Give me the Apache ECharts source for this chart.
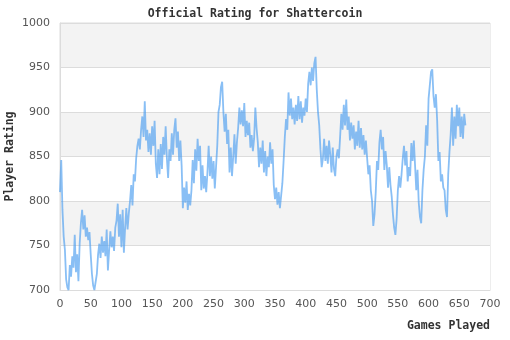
<!DOCTYPE html>
<html>
<head>
<meta charset="utf-8">
<title>Official Rating for Shattercoin</title>
<script src="https://cdn.jsdelivr.net/npm/echarts@6/dist/echarts.min.js"></script>
<style>
  html, body { margin: 0; padding: 0; background: #fff; }
  #chart { width: 510px; height: 340px; }
</style>
</head>
<body>
<div id="chart"></div>
<script>
// Rating after every second game played (game 0, 2, 4, ...)
const gameStep = 2;
const ratings = [
  810, 846, 790, 760, 745, 712, 703, 700, 728, 715,
  738, 725, 762, 720, 740, 710, 752, 775, 790, 768,
  784, 760, 770, 756, 765, 740, 718, 705, 700, 702,
  718, 740, 752, 736, 760, 742, 755, 738, 768, 722,
  745, 766, 748, 760, 744, 770, 778, 797, 760, 785,
  748, 790, 742, 770, 792, 768, 786, 800, 818, 795,
  830, 822, 848, 862, 870, 858, 880, 895, 872, 912,
  868, 880, 855, 876, 852, 884, 862, 890, 842, 826,
  858, 830, 864, 836, 872, 852, 884, 848, 826, 858,
  845, 876, 852, 880, 893, 860, 878, 845, 868, 840,
  792, 815, 798, 822, 790, 808, 795, 812, 846, 820,
  858, 834, 870, 845, 862, 812, 840, 814, 828, 810,
  832, 862, 828, 850, 825, 845, 814, 838, 862, 900,
  908, 928, 934, 900, 878, 898, 864, 880, 832, 860,
  828, 850, 875, 842, 866, 882, 905, 886, 902, 884,
  910, 872, 890, 874, 888, 860, 874, 856, 870, 905,
  882, 866, 838, 860, 842, 868, 832, 856, 828, 850,
  838, 866, 842, 858, 818, 802, 815, 796, 810, 792,
  806, 820, 845, 872, 892, 880, 922, 896, 915, 892,
  905, 886, 908, 890, 918, 892, 912, 888, 905, 896,
  915, 900, 932, 945, 930, 950, 935, 955, 962, 925,
  900, 885, 858, 838, 848, 870, 845, 862, 842, 868,
  852, 832, 860, 836, 828, 850, 858, 848, 872, 898,
  880, 908, 885, 914, 880, 895, 868, 888, 870, 885,
  858, 878, 862, 890, 860, 882, 858, 874, 852, 868,
  848, 830, 840, 812, 800, 772, 785, 810, 845, 835,
  866, 880, 858, 872, 835, 856, 840, 815, 838, 818,
  805, 785, 770, 762, 780, 812, 828, 815, 830, 848,
  862, 840, 856, 822, 838, 828, 865, 845, 868, 840,
  812, 835, 798, 782, 775, 812, 835, 850, 885, 862,
  915, 930, 945, 948, 918, 905, 920, 890, 845, 855,
  822, 830, 815, 812, 790, 782, 830, 855, 875, 905,
  862, 895, 870, 908, 884, 905, 872, 895, 870, 898,
  885
];
const games = ratings.map((_, i) => i * gameStep);

const yTicks = { min: 700, max: 1000, interval: 50 };
const xTicks = { min: 0, max: 700, interval: 50 };

const mono = "'DejaVu Sans Mono', 'Liberation Mono', monospace";
const sans = "'DejaVu Sans', sans-serif";

const chart = echarts.init(document.getElementById('chart'), null, { renderer: 'canvas' });
chart.setOption({
  animation: false,
  backgroundColor: '#ffffff',
  title: {
    text: 'Official Rating for Shattercoin',
    left: 'center',
    top: 3,
    textStyle: { fontFamily: mono, fontWeight: 'bold', fontSize: 11.5, color: '#333' }
  },
  grid: {
    left: 60, right: 20, top: 23, bottom: 50,
    containLabel: false,
    outerBoundsMode: 'none',
    show: true, borderColor: '#dcdcdc', borderWidth: 1, backgroundColor: 'transparent'
  },
  xAxis: {
    type: 'value',
    min: xTicks.min, max: xTicks.max, interval: xTicks.interval,
    name: 'Games Played',
    nameLocation: 'end',
    nameGap: 0,
    nameMoveOverlap: false,
    nameTextStyle: {
      fontFamily: mono, fontWeight: 'bold', fontSize: 11.5, color: '#333',
      align: 'right', verticalAlign: 'top', padding: [30, 0, 0, 0]
    },
    axisLine: { show: true, lineStyle: { color: '#dcdcdc' } },
    axisTick: { show: false },
    axisLabel: { fontFamily: sans, fontSize: 11, color: '#555', margin: 9 },
    splitLine: { show: false }
  },
  yAxis: {
    type: 'value',
    min: yTicks.min, max: yTicks.max, interval: yTicks.interval,
    name: 'Player Rating',
    nameLocation: 'middle',
    nameRotate: 90,
    nameGap: 44,
    nameMoveOverlap: false,
    nameTextStyle: { fontFamily: mono, fontWeight: 'bold', fontSize: 11.5, color: '#333' },
    axisLine: { show: true, lineStyle: { color: '#dcdcdc' } },
    axisTick: { show: false },
    axisLabel: { fontFamily: sans, fontSize: 11, color: '#555', margin: 10, formatter: v => String(v) },
    splitLine: { show: true, lineStyle: { color: '#dcdcdc', width: 1 } },
    splitArea: { show: true, areaStyle: { color: ['#ffffff', '#f3f3f3'] } }
  },
  series: [{
    type: 'line',
    data: games.map((g, i) => [g, ratings[i]]),
    showSymbol: false,
    symbol: 'none',
    lineStyle: { color: '#4a9cf0', width: 1.8, opacity: 0.65 },
    emphasis: { disabled: true }
  }]
});
</script>
</body>
</html>
